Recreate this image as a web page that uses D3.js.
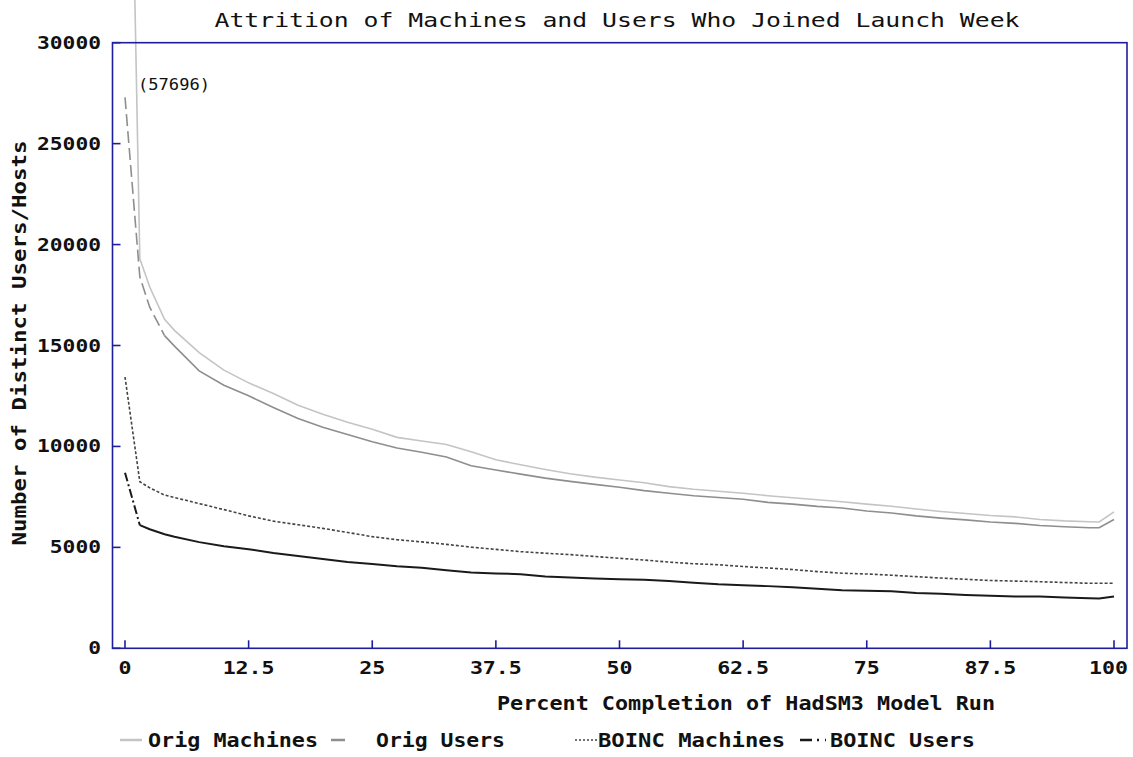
<!DOCTYPE html>
<html><head><meta charset="utf-8">
<script src="https://cdn.jsdelivr.net/npm/d3@7"></script>
<style>body{margin:0;background:#fff}svg{display:block}</style>
</head><body><svg id="c" width="1133" height="757"></svg>
<script>
const pct = [0,1.5,2.5,4,5,7.5,10,12.5,15,17.5,20,22.5,25,27.5,30,32.5,35,37.5,40,42.5,45,47.5,50,52.5,55,57.5,60,62.5,65,67.5,70,72.5,75,77.5,80,82.5,85,87.5,90,92.5,95,97.5,98.5,100];
const origMachines = [57696,19300,17900,16300,15750,14650,13780,13150,12620,12040,11590,11200,10850,10450,10270,10100,9740,9340,9090,8860,8650,8480,8340,8200,8010,7880,7780,7680,7560,7460,7360,7260,7140,7040,6900,6780,6680,6580,6510,6380,6310,6270,6260,6760];
const origUsers = [27300,18400,16900,15490,14970,13740,13030,12510,11930,11380,10950,10590,10230,9920,9710,9480,9040,8830,8630,8430,8270,8120,7980,7810,7680,7560,7470,7380,7230,7140,7030,6950,6800,6700,6560,6450,6360,6260,6190,6080,6020,5970,5970,6380];
const boincMachines = [13440,8250,7950,7590,7470,7170,6870,6560,6300,6120,5940,5740,5530,5380,5270,5150,5010,4900,4790,4710,4640,4550,4460,4370,4270,4190,4140,4050,3980,3900,3800,3720,3680,3620,3550,3480,3420,3360,3330,3300,3260,3220,3220,3220];
const boincUsers = [8700,6100,5900,5650,5530,5260,5060,4910,4720,4570,4420,4270,4180,4070,3990,3870,3760,3710,3670,3560,3510,3460,3420,3390,3330,3250,3170,3120,3080,3020,2950,2880,2850,2820,2740,2700,2640,2600,2560,2560,2520,2480,2470,2570];
const xTicks = [0,12.5,25,37.5,50,62.5,75,87.5,100];
const xTickLabels = ["0","12.5","25","37.5","50","62.5","75","87.5","100"];
const yTicks = [0,5000,10000,15000,20000,25000,30000];
const seriesNames = ["Orig Machines","Orig Users","BOINC Machines","BOINC Users"];
const title = "Attrition of Machines and Users Who Joined Launch Week";
const xTitle = "Percent Completion of HadSM3 Model Run";
const yTitle = "Number of Distinct Users/Hosts";
const offChartLabel = "(57696)";

const svg = d3.select("#c");
const axisColor = "#1e1e9c";
const boxL = 112.5, boxR = 1127, boxT = 42.7, boxB = 648.3;
const x = d3.scaleLinear().domain([0,100]).range([125,1114]);
const y = d3.scaleLinear().domain([0,30000]).range([boxB, boxT]);
const mono = "'DejaVu Sans Mono', 'Liberation Mono', monospace";
const SG = "spacingAndGlyphs";

// title
svg.append("text").attr("x", 617).attr("y", 27).attr("text-anchor","middle")
  .attr("font-family", mono).attr("font-size", 20).attr("fill","#111")
  .attr("textLength", 805).attr("lengthAdjust", SG).text(title);

// lines
const line = d3.line().x(d=>x(d[0])).y(d=>y(d[1]));
function pts(arr){ return pct.map((p,i)=>[p, arr[i]]); }
const g = svg.append("g");
const om = pts(origMachines), ou = pts(origUsers), bm = pts(boincMachines), bu = pts(boincUsers);
g.append("path").attr("d", line(om)).attr("fill","none").attr("stroke","#c4c4c4").attr("stroke-width",1.6);
g.append("path").attr("d", line(ou.slice(0,4))).attr("fill","none").attr("stroke","#8e8e8e").attr("stroke-width",1.6).attr("stroke-dasharray","12,5");
g.append("path").attr("d", line(ou.slice(3))).attr("fill","none").attr("stroke","#8e8e8e").attr("stroke-width",1.6);
g.append("path").attr("d", line(bm)).attr("fill","none").attr("stroke","#444").attr("stroke-width",1.6).attr("stroke-dasharray","3,2");
g.append("path").attr("d", line(bu.slice(0,2))).attr("fill","none").attr("stroke","#1a1a1a").attr("stroke-width",2).attr("stroke-dasharray","9,3,2,3");
g.append("path").attr("d", line(bu.slice(1))).attr("fill","none").attr("stroke","#1a1a1a").attr("stroke-width",2);

// off-chart annotation
svg.append("text").attr("x", x(pct[0]) + 13).attr("y", 90)
  .attr("font-family", mono).attr("font-size", 16).attr("fill","#111")
  .attr("textLength", 72).attr("lengthAdjust", SG).text(offChartLabel);

// box
svg.append("rect").attr("x", boxL).attr("y", boxT).attr("width", boxR-boxL).attr("height", boxB-boxT)
  .attr("fill","none").attr("stroke", axisColor).attr("stroke-width", 1.6);

// y ticks
const yt = svg.append("g");
yTicks.forEach(t=>{
  yt.append("line").attr("x1", boxL).attr("x2", boxL+8).attr("y1", y(t)).attr("y2", y(t)).attr("stroke", axisColor).attr("stroke-width",1.6);
  const s = String(t);
  yt.append("text").attr("x", 101).attr("y", y(t)+6).attr("text-anchor","end")
    .attr("font-family", mono).attr("font-weight","bold").attr("font-size", 17).attr("fill","#111")
    .attr("textLength", s.length*12.8).attr("lengthAdjust", SG).text(s);
});
// x ticks
const xt = svg.append("g");
xTicks.forEach((t,i)=>{
  xt.append("line").attr("x1", x(t)).attr("x2", x(t)).attr("y1", boxB).attr("y2", boxB-8).attr("stroke", axisColor).attr("stroke-width",1.6);
  const s = xTickLabels[i];
  const w = s.length*13;
  let cx = x(t);
  if (cx + w/2 > 1128) cx = 1128 - w/2;
  xt.append("text").attr("x", cx).attr("y", 674).attr("text-anchor","middle")
    .attr("font-family", mono).attr("font-weight","bold").attr("font-size", 17).attr("fill","#111")
    .attr("textLength", w).attr("lengthAdjust", SG).text(s);
});

// axis titles
svg.append("text").attr("x", 746).attr("y", 710).attr("text-anchor","middle")
  .attr("font-family", mono).attr("font-weight","bold").attr("font-size", 19).attr("fill","#111")
  .attr("textLength", 498).attr("lengthAdjust", SG).text(xTitle);
svg.append("text").attr("transform","translate(26,343) rotate(-90)").attr("text-anchor","middle")
  .attr("font-family", mono).attr("font-weight","bold").attr("font-size", 19).attr("fill","#111")
  .attr("textLength", 405).attr("lengthAdjust", SG).text(yTitle);

// legend
const legendItems = [
  {sx1:120, sx2:142, tx:148, tw:170, color:"#c4c4c4", w:2.5, dash:null},
  {sx1:331, sx2:345, tx:376, tw:129, color:"#8e8e8e", w:2.5, dash:null},
  {sx1:575, sx2:597, tx:598, tw:187, color:"#444", w:1.6, dash:"2,2"},
  {sx1:800, sx2:826, tx:830, tw:145, color:"#1a1a1a", w:2.5, dash:"12,5,2,6"}
];
const lg = svg.append("g");
legendItems.forEach((it,i)=>{
  const l = lg.append("line").attr("x1", it.sx1).attr("x2", it.sx2).attr("y1", 740).attr("y2", 740)
    .attr("stroke", it.color).attr("stroke-width", it.w);
  if (it.dash) l.attr("stroke-dasharray", it.dash);
  lg.append("text").attr("x", it.tx).attr("y", 747)
    .attr("font-family", mono).attr("font-weight","bold").attr("font-size", 19).attr("fill","#111")
    .attr("textLength", it.tw).attr("lengthAdjust", SG).text(seriesNames[i]);
});
</script></body></html>
